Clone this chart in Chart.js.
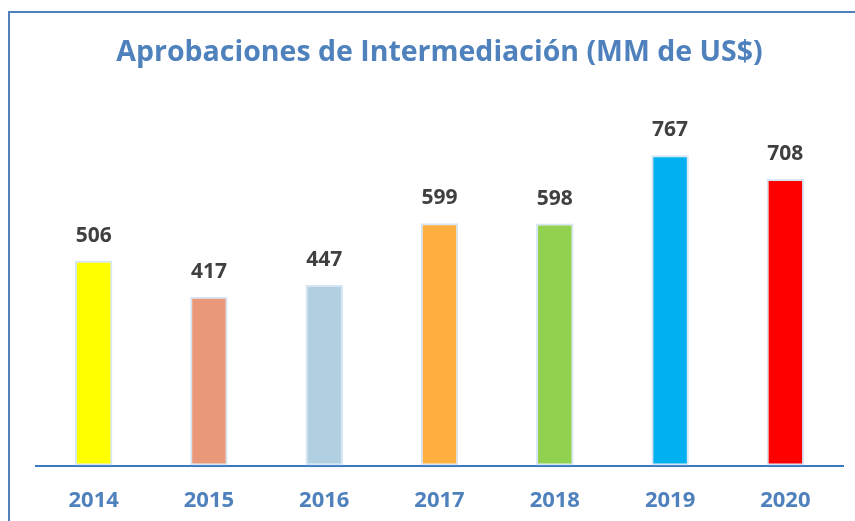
<!DOCTYPE html>
<html>
<head>
<meta charset="utf-8">
<script src="https://cdn.jsdelivr.net/npm/chart.js@4.4.1/dist/chart.umd.min.js"></script>
<style>
html,body{margin:0;padding:0;background:#fff;}
#wrap{width:855px;height:521px;position:relative;}
</style>
</head>
<body>
<div id="wrap"><canvas id="c" width="855" height="521"></canvas></div>
<script>
const years = ['2014','2015','2016','2017','2018','2019','2020'];
const approvals = [506, 417, 447, 599, 598, 767, 708];
const barColors = ['#FFFF00','#EA987A','#B0D0E2','#FFAF3F','#92D050','#00B0F0','#FF0000'];
const titleText = 'Aprobaciones de Intermediación (MM de US$)';

const framePlugin = {
  id: 'frame',
  beforeDraw(chart) {
    const ctx = chart.ctx;
    ctx.save();
    ctx.fillStyle = '#fff';
    ctx.fillRect(0, 0, chart.width, chart.height);
    ctx.strokeStyle = '#4F81BD';
    ctx.lineWidth = 2;
    ctx.beginPath();
    ctx.moveTo(9, chart.height + 5);
    ctx.lineTo(9, 12);
    ctx.lineTo(chart.width + 5, 12);
    ctx.stroke();
    ctx.restore();
  }
};

const labelPlugin = {
  id: 'valueLabels',
  afterDatasetsDraw(chart) {
    const ctx = chart.ctx;
    const meta = chart.getDatasetMeta(0);
    ctx.save();
    ctx.font = 'bold 21px "Open Sans"';
    ctx.fillStyle = '#404040';
    ctx.textAlign = 'center';
    ctx.textBaseline = 'middle';
    meta.data.forEach((bar, i) => {
      ctx.fillText(String(chart.data.datasets[0].data[i]), bar.x, bar.y - 25);
    });
    ctx.restore();
  }
};

new Chart(document.getElementById('c'), {
  type: 'bar',
  data: {
    labels: years,
    datasets: [{
      data: approvals,
      backgroundColor: barColors,
      borderColor: '#D6E5F3',
      borderWidth: 2,
      borderSkipped: false,
      categoryPercentage: 1,
      barPercentage: 0.325
    }]
  },
  options: {
    responsive: false,
    animation: false,
    devicePixelRatio: 1,
    layout: { padding: { left: 36, right: 12, top: 0, bottom: -15 } },
    plugins: {
      legend: { display: false },
      tooltip: { enabled: false },
      title: {
        display: true,
        text: titleText,
        color: '#4F81BD',
        font: { family: '"Open Sans"', size: 28.5, weight: 'bold' },
        padding: { top: 36, bottom: 40 }
      }
    },
    scales: {
      y: { display: false, min: 0, max: 878 },
      x: {
        grid: { display: false, drawTicks: false },
        border: { display: true, color: '#3A78C0', width: 2 },
        ticks: {
          color: '#4F81BD',
          font: { family: '"Open Sans"', size: 22, weight: 'bold' },
          padding: 22
        }
      }
    }
  },
  plugins: [framePlugin, labelPlugin]
});
</script>
</body>
</html>
